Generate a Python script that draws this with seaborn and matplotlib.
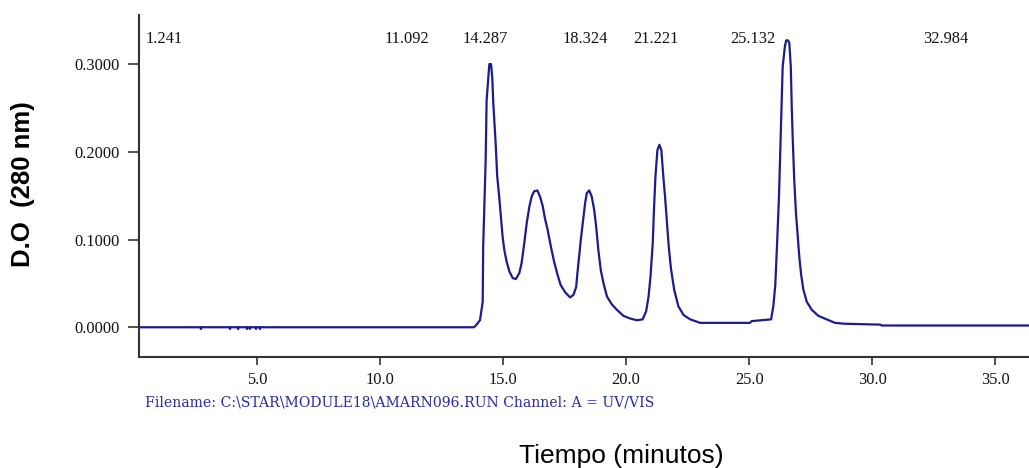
import matplotlib
matplotlib.use("Agg")
import matplotlib.pyplot as plt
import seaborn as sns
import pandas as pd

# Chromatogram trace: retention time (min) and optical density at 280 nm
time_min = [
    0.20, 2.70, 2.72, 2.74, 3.88, 3.90, 3.92, 4.21, 4.23, 4.25,
    4.57, 4.59, 4.62, 4.69, 4.71, 4.73, 4.94, 4.96, 4.98, 5.10, 5.12, 5.14,
    13.80, 13.86, 14.06, 14.17, 14.19, 14.29, 14.33, 14.44, 14.51, 14.56,
    14.60, 14.70, 14.76, 14.84, 14.91, 14.98, 15.05, 15.14, 15.25, 15.39,
    15.52, 15.66, 15.75, 15.86, 15.96, 16.07, 16.16, 16.26, 16.39, 16.50,
    16.61, 16.70, 16.81, 16.94, 17.07, 17.21, 17.34, 17.52, 17.72, 17.86,
    17.97, 18.02, 18.09, 18.17, 18.26, 18.33, 18.40, 18.50, 18.60, 18.70,
    18.78, 18.87, 18.97, 19.08, 19.22, 19.42, 19.62, 19.89, 20.16, 20.43,
    20.67, 20.81, 20.91, 20.99, 21.08, 21.13, 21.19, 21.27, 21.35, 21.43,
    21.51, 21.58, 21.65, 21.73, 21.82, 21.95, 22.12, 22.33, 22.60, 23.01,
    25.03, 25.10, 25.89, 25.98, 26.06, 26.14, 26.21, 26.29, 26.36, 26.45,
    26.50, 26.58, 26.63, 26.69, 26.73, 26.77, 26.83, 26.90, 26.97, 27.04,
    27.11, 27.20, 27.34, 27.54, 27.81, 28.15, 28.49, 28.89, 30.32, 30.39,
    36.50,
]
absorbance = [
    0.000, 0.000, -0.002, 0.000, 0.000, -0.002, 0.000, 0.000, -0.002, 0.000,
    0.000, -0.002, 0.000, 0.000, -0.002, 0.000, 0.000, -0.002, 0.000, 0.000, -0.002, 0.000,
    0.000, 0.001, 0.008, 0.029, 0.092, 0.190, 0.259, 0.300, 0.300, 0.284,
    0.256, 0.208, 0.172, 0.149, 0.126, 0.103, 0.088, 0.075, 0.064, 0.056,
    0.055, 0.062, 0.073, 0.096, 0.119, 0.138, 0.149, 0.155, 0.156, 0.149,
    0.138, 0.124, 0.111, 0.092, 0.075, 0.060, 0.048, 0.040, 0.034, 0.037,
    0.046, 0.062, 0.081, 0.103, 0.124, 0.141, 0.153, 0.156, 0.149, 0.134,
    0.115, 0.088, 0.065, 0.050, 0.035, 0.026, 0.020, 0.013, 0.010, 0.008,
    0.009, 0.018, 0.035, 0.058, 0.096, 0.134, 0.172, 0.202, 0.208, 0.202,
    0.172, 0.149, 0.122, 0.092, 0.067, 0.043, 0.024, 0.014, 0.009, 0.005,
    0.005, 0.007, 0.009, 0.024, 0.048, 0.100, 0.149, 0.229, 0.297, 0.320,
    0.327, 0.327, 0.324, 0.297, 0.250, 0.214, 0.168, 0.130, 0.105, 0.079,
    0.060, 0.043, 0.029, 0.020, 0.013, 0.009, 0.005, 0.004, 0.003, 0.002,
    0.002,
]

# Retention times reported by the integrator
peak_labels = ["1.241", "11.092", "14.287", "18.324", "21.221", "25.132", "32.984"]

x_ticks = [5, 10, 15, 20, 25, 30, 35]
y_ticks = [0.0, 0.1, 0.2, 0.3]

trace = pd.DataFrame({"t": time_min, "od": absorbance})

sns.set_style("white")
fig = plt.figure(figsize=(10.29, 4.68), dpi=100)
ax = fig.add_axes([0.135, 0.2372, 0.865, 0.7308])

sns.lineplot(data=trace, x="t", y="od", ax=ax, color="#1c1c8c",
             linewidth=1.6, sort=False, estimator=None)

ax.set_xlim(0.2, 36.37)
ax.set_ylim(-0.0339, 0.356)

for side in ("top", "right"):
    ax.spines[side].set_visible(False)
for side in ("left", "bottom"):
    ax.spines[side].set_color("#333333")
    ax.spines[side].set_linewidth(1.5)

tick_font = dict(family="Liberation Serif", size=11.8, color="#111111")
ax.set_xticks(x_ticks)
ax.set_xticklabels([f"{v:.1f}" for v in x_ticks], **tick_font)
ax.set_yticks(y_ticks)
ax.set_yticklabels([f"{v:.4f}" for v in y_ticks], **tick_font)
ax.tick_params(axis="x", direction="out", length=6, width=1.2,
               color="#333333", pad=5, bottom=True)
ax.tick_params(axis="y", direction="out", length=8, width=1.2,
               color="#333333", pad=6, left=True)
ax.set_xlabel("")
ax.set_ylabel("")

for lab in peak_labels:
    ax.text(float(lab), 0.329, lab, ha="center", va="center", **tick_font)

fig.text(0.141, 0.141,
         "Filename: C:\\STAR\\MODULE18\\AMARN096.RUN Channel: A = UV/VIS",
         color="#2a2aa0", family="DejaVu Serif", size=10.1,
         ha="left", va="center")

fig.text(0.022, 0.607, "D.O  (280 nm)", rotation=90, ha="center",
         va="center", family="Liberation Sans", weight="bold", size=18.5,
         color="black")
fig.text(0.604, 0.025, "Tiempo (minutos)", ha="center", va="center",
         family="Liberation Sans", size=19, color="black")

fig.savefig("out.png", dpi=100)
